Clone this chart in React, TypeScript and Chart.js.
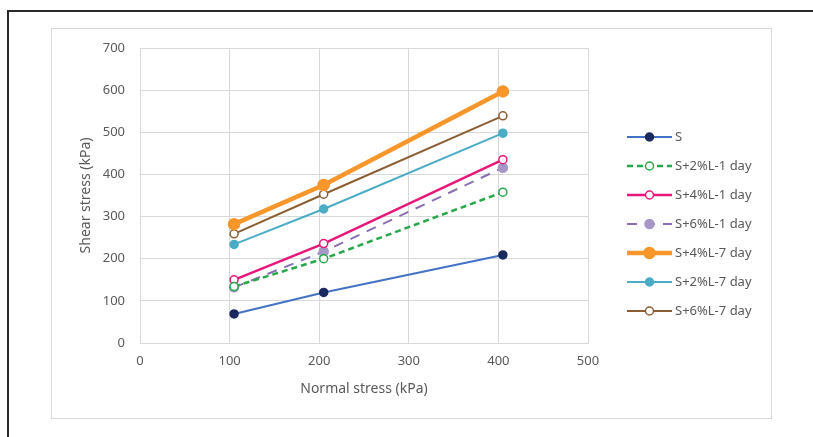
import React, { useEffect, useRef } from "react";
import { Chart, registerables } from "chart.js";

Chart.register(...registerables);

const normalStress = [105, 205, 405];
const seriesNames = ["S", "S+2%L-1 day", "S+4%L-1 day", "S+6%L-1 day", "S+4%L-7 day", "S+2%L-7 day", "S+6%L-7 day"];
const sValues = [69, 120, 209];
const s2L1 = [134, 200, 358];
const s4L1 = [150, 236, 435];
const s6L1 = [132, 217, 416];
const s4L7 = [282, 375, 597];
const s2L7 = [234, 318, 498];
const s6L7 = [259, 353, 539];
const xTicks = [0, 100, 200, 300, 400, 500];
const yTicks = [0, 100, 200, 300, 400, 500, 600, 700];

const FONT = "'Noto Sans', 'Open Sans', sans-serif";

type Style = { line: string; marker: string; fill: string; width: number; dash: number[]; radius: number };
const styles: Style[] = [
  { line: "#4472C4", marker: "#1B2A5E", fill: "#1B2A5E", width: 2, dash: [], radius: 4 },
  { line: "#27A84A", marker: "#27A84A", fill: "#FFFFFF", width: 2.5, dash: [6, 4], radius: 4 },
  { line: "#E8177A", marker: "#E8177A", fill: "#FFFFFF", width: 2.5, dash: [], radius: 4 },
  { line: "#8A6FB5", marker: "#A697C9", fill: "#A697C9", width: 2, dash: [10, 8], radius: 4.5 },
  { line: "#F7962B", marker: "#F7962B", fill: "#F7962B", width: 4.5, dash: [], radius: 5.5 },
  { line: "#4BACC6", marker: "#4BACC6", fill: "#4BACC6", width: 2, dash: [], radius: 4 },
  { line: "#8C5E33", marker: "#8C5E33", fill: "#FFFFFF", width: 2, dash: [], radius: 4 },
];

const allValues = [sValues, s2L1, s4L1, s6L1, s4L7, s2L7, s6L7];

const legendPlugin = {
  id: "customLegend",
  afterDraw(chart: any) {
    const ctx = chart.ctx;
    const x0 = 627;
    const x1 = 672;
    const yStart = 137;
    const step = 29;
    ctx.save();
    chart.data.datasets.forEach((ds: any, i: number) => {
      const st = styles[i];
      const y = yStart + i * step;
      ctx.beginPath();
      ctx.strokeStyle = st.line;
      ctx.lineWidth = st.width;
      ctx.setLineDash(st.dash);
      ctx.moveTo(x0, y);
      ctx.lineTo(x1, y);
      ctx.stroke();
      ctx.setLineDash([]);
      ctx.beginPath();
      ctx.arc((x0 + x1) / 2, y, st.radius, 0, Math.PI * 2);
      ctx.fillStyle = st.fill;
      ctx.fill();
      ctx.lineWidth = 1.5;
      ctx.strokeStyle = st.marker;
      ctx.stroke();
      ctx.fillStyle = "#595959";
      ctx.font = "13px " + FONT;
      ctx.textAlign = "left";
      ctx.textBaseline = "middle";
      ctx.fillText(ds.label, x1 + 3, y);
    });
    ctx.restore();
  },
};

export default function App() {
  const ref = useRef<HTMLCanvasElement>(null);
  useEffect(() => {
    if (!ref.current) return;
    const chart = new Chart(ref.current, {
      type: "scatter",
      data: {
        datasets: seriesNames.map((name, i) => ({
          label: name,
          data: normalStress.map((x, j) => ({ x, y: allValues[i][j] })),
          showLine: true,
          borderColor: styles[i].line,
          borderWidth: styles[i].width,
          borderDash: styles[i].dash,
          pointRadius: styles[i].radius,
          pointBackgroundColor: styles[i].fill,
          pointBorderColor: styles[i].marker,
          pointBorderWidth: 1.5,
          tension: 0,
        })),
      },
      options: {
        responsive: false,
        animation: false,
        layout: { padding: { left: 52, top: 48, right: 225, bottom: 0 } },
        plugins: { legend: { display: false }, tooltip: { enabled: false } },
        scales: {
          x: {
            type: "linear",
            min: 0,
            max: 500,
            afterBuildTicks: (s: any) => { s.ticks = xTicks.map((v) => ({ value: v })); },
            afterFit: (s: any) => { s.height = 94; },
            grid: { color: "#D9D9D9", lineWidth: 1, drawTicks: false },
            border: { display: true, color: "#D9D9D9" },
            ticks: { color: "#595959", font: { size: 13, family: FONT }, padding: 10 },
            title: { display: true, text: "Normal stress (kPa)", color: "#595959", font: { size: 14, family: FONT }, padding: { top: 0, bottom: 40 } },
          },
          y: {
            type: "linear",
            min: 0,
            max: 700,
            afterBuildTicks: (s: any) => { s.ticks = yTicks.map((v) => ({ value: v })); },
            afterFit: (s: any) => { s.width = 88; },
            grid: { color: "#D9D9D9", lineWidth: 1, drawTicks: false },
            border: { display: true, color: "#D9D9D9" },
            ticks: { color: "#595959", font: { size: 13, family: FONT }, padding: 15 },
            title: { display: true, text: "Shear stress (kPa)", color: "#595959", font: { size: 14, family: FONT }, padding: { top: 26, bottom: 0 } },
          },
        },
      },
      plugins: [legendPlugin],
    } as any);
    return () => chart.destroy();
  }, []);

  return (
    <div style={{ position: "absolute", left: 0, top: 0, width: 813, height: 437, overflow: "hidden", background: "#FFFFFF" }}>
      <div style={{ position: "absolute", left: 7, top: 10, width: 813, height: 427, borderTop: "2px solid #2B2B2B", borderLeft: "2px solid #2B2B2B" }} />
      <div style={{ position: "absolute", left: 51, top: 28, width: 719, height: 389, border: "1.5px solid #D9D9D9", background: "#FFFFFF" }} />
      <canvas ref={ref} width={813} height={437} style={{ position: "absolute", left: 0, top: 0, width: 813, height: 437 }} />
    </div>
  );
}
